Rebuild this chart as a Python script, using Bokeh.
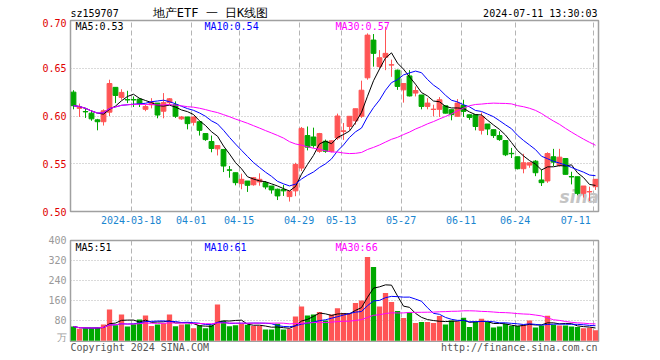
import numpy as np
import pandas as pd
from bokeh.plotting import figure
from bokeh.layouts import column
from bokeh.models import Range1d, FixedTicker, Label, ColumnDataSource, NumeralTickFormatter
from bokeh.embed import file_html
from bokeh.resources import INLINE

# ---------------- data ----------------
opens = [0.625, 0.608, 0.6047, 0.603, 0.596, 0.594, 0.604, 0.630, 0.6195, 0.6172,
         0.6172, 0.6177, 0.607, 0.6118, 0.6135, 0.605, 0.614, 0.6118, 0.597, 0.599,
         0.5934, 0.594, 0.5816, 0.5733, 0.5656, 0.565, 0.5436, 0.5406, 0.5292, 0.5319,
         0.528, 0.531, 0.5302, 0.5267, 0.5233, 0.523, 0.5156, 0.5216, 0.5455, 0.5795,
         0.578, 0.563, 0.5736, 0.563, 0.577, 0.5837, 0.589, 0.595, 0.5997, 0.640,
         0.6795, 0.6517, 0.6615, 0.6533, 0.648, 0.6274, 0.642, 0.624, 0.622, 0.610,
         0.6068, 0.607, 0.6107, 0.6066, 0.5997, 0.611, 0.6013, 0.6013, 0.585, 0.5916,
         0.5857, 0.5795, 0.5743, 0.5609, 0.5573, 0.5448, 0.5486, 0.5527, 0.533, 0.532,
         0.5573, 0.5483, 0.5555, 0.5366, 0.5364, 0.519, 0.5205, 0.5260]
highs = [0.627, 0.613, 0.608, 0.6055, 0.597, 0.607, 0.638, 0.630, 0.628, 0.6264,
         0.6205, 0.6187, 0.6118, 0.6187, 0.6135, 0.624, 0.6187, 0.6153, 0.600, 0.599,
         0.599, 0.594, 0.5816, 0.5795, 0.5693, 0.565, 0.5476, 0.5406, 0.5396, 0.5319,
         0.5361, 0.540, 0.5319, 0.5267, 0.524, 0.5277, 0.5212, 0.551, 0.5885, 0.589,
         0.5878, 0.5823, 0.5753, 0.5743, 0.6025, 0.5927, 0.5997, 0.6076, 0.637, 0.6865,
         0.6858, 0.669, 0.6934, 0.659, 0.6486, 0.634, 0.648, 0.6309, 0.622, 0.6187,
         0.6118, 0.6198, 0.6107, 0.6066, 0.6177, 0.617, 0.6013, 0.6013, 0.6037, 0.5916,
         0.5857, 0.584, 0.5743, 0.5666, 0.5573, 0.5604, 0.551, 0.5538, 0.544, 0.562,
         0.5656, 0.5656, 0.5555, 0.5416, 0.5364, 0.5267, 0.526, 0.534]
lows = [0.607, 0.599, 0.598, 0.595, 0.585, 0.590, 0.600, 0.6135, 0.617, 0.6135,
        0.6094, 0.6094, 0.605, 0.608, 0.5976, 0.5976, 0.6118, 0.598, 0.596, 0.586,
        0.590, 0.5795, 0.574, 0.562, 0.5587, 0.5413, 0.5354, 0.5274, 0.5233, 0.5205,
        0.527, 0.527, 0.5233, 0.5187, 0.512, 0.5163, 0.5104, 0.516, 0.5424, 0.564,
        0.5667, 0.5615, 0.5615, 0.562, 0.575, 0.575, 0.585, 0.591, 0.598, 0.638,
        0.6517, 0.650, 0.648, 0.641, 0.6274, 0.614, 0.6205, 0.6205, 0.607, 0.607,
        0.5997, 0.599, 0.6027, 0.5955, 0.5997, 0.599, 0.596, 0.585, 0.5806, 0.580,
        0.577, 0.574, 0.558, 0.556, 0.5441, 0.540, 0.5458, 0.537, 0.5267, 0.530,
        0.5476, 0.547, 0.5389, 0.5284, 0.517, 0.5146, 0.511, 0.5225]
closes = [0.6108, 0.609, 0.6043, 0.597, 0.594, 0.6055, 0.634, 0.6215, 0.6247, 0.6168,
          0.6168, 0.6128, 0.610, 0.614, 0.601, 0.614, 0.618, 0.5997, 0.599, 0.592,
          0.599, 0.585, 0.5753, 0.566, 0.569, 0.5476, 0.5432, 0.5302, 0.5337, 0.5274,
          0.5354, 0.5337, 0.5257, 0.5226, 0.5163, 0.5216, 0.5212, 0.5493, 0.587, 0.5674,
          0.569, 0.5816, 0.563, 0.574, 0.600, 0.5845, 0.5997, 0.6076, 0.627, 0.6847,
          0.6656, 0.661, 0.6656, 0.6537, 0.631, 0.634, 0.621, 0.6267, 0.610, 0.6135,
          0.6072, 0.617, 0.603, 0.6014, 0.6135, 0.6048, 0.5985, 0.589, 0.5996, 0.5864,
          0.5795, 0.5753, 0.5594, 0.5605, 0.5448, 0.551, 0.551, 0.5406, 0.5302, 0.5607,
          0.5517, 0.5569, 0.5389, 0.5362, 0.519, 0.5267, 0.5209, 0.5337]
volumes = [57, 48, 50, 50, 52, 65, 125, 62, 105, 57,
           66, 85, 101, 59, 65, 70, 105, 58, 65, 66,
           50, 62, 50, 62, 145, 80, 58, 62, 68, 64,
           59, 59, 45, 45, 68, 45, 48, 97, 137, 101,
           105, 115, 81, 105, 130, 111, 111, 151, 161, 335,
           295, 137, 191, 155, 119, 91, 113, 71, 75, 75,
           71, 99, 65, 81, 77, 92, 55, 75, 88, 75,
           53, 57, 67, 59, 59, 64, 81, 53, 61, 100,
           64, 61, 61, 57, 55, 50, 52, 42]
date_tick_index = [10, 20, 28, 38, 45, 55, 65, 74, 87]
date_tick_labels = ["2024-03-18", "04-01", "04-15", "04-29", "05-13",
                    "05-27", "06-11", "06-24", "07-11"]
price_ticks = [0.50, 0.55, 0.60, 0.65, 0.70]
volume_ticks = [0, 80, 160, 240, 320, 400]
price_ma_labels = ["MA5:0.53", "MA10:0.54", "MA30:0.57"]
volume_ma_labels = ["MA5:51", "MA10:61", "MA30:66"]
code_text = "sz159707"
title_text = "地产ETF 一 日K线图"
time_text = "2024-07-11 13:30:03"
footer_left = "Copyright 2024 SINA.COM"
footer_right = "http://finance.sina.com.cn"

# ---------------- styles ----------------
RED = "#ff5555"
GREEN = "#00a800"
MONO = "DejaVu Sans Mono"
MA_COLORS = ["black", "#0000ff", "#ff00ff"]
GRID = "#b4b4b4"
OUTLINE = "#a0a0a0"
W = 652
BL, BR = 70, 54            # left / right borders: frame spans page x 70..598

n = len(closes)
idx = np.arange(n)
o = np.array(opens); c = np.array(closes)
h = np.array(highs); l = np.array(lows)
vol = np.array(volumes, dtype=float)
up = c >= o
colors = [RED if u else GREEN for u in up]

cs = pd.Series(c)
vs = pd.Series(vol)
src = ColumnDataSource(dict(
    x=idx, o=o, c=c, h=h, l=l,
    top=np.maximum(o, c), bot=np.minimum(o, c),
    vol=vol, color=colors,
    ma5=cs.rolling(5, min_periods=1).mean(),
    ma10=cs.rolling(10, min_periods=1).mean(),
    ma30=cs.rolling(30, min_periods=1).mean(),
    vma5=vs.rolling(5, min_periods=1).mean(),
    vma10=vs.rolling(10, min_periods=1).mean(),
    vma30=vs.rolling(30, min_periods=1).mean(),
))

xr = Range1d(-0.5, n - 0.5)
grid_x = [i - 0.4 for i in date_tick_index]
# tick-label anchors: same as the grid, except that a label is kept inside the frame
px_per_x = 528.0 / n
label_x = []
for gx, lab in zip(grid_x, date_tick_labels):
    half = len(lab) * 3.0 / px_per_x          # half label width in data units (6px per char)
    label_x.append(min(gx, (n - 0.5) - 1.3 - half))

def text_strip(height):
    # x data units equal page pixels (frame spans 70..598)
    f = figure(width=W, height=height, x_range=Range1d(BL, W - BR), y_range=Range1d(0, height),
               x_axis_location=None, y_axis_location=None, output_backend="svg",
               toolbar_location=None, min_border_left=BL, min_border_right=BR,
               min_border_top=0, min_border_bottom=0, outline_line_color=None)
    f.xgrid.visible = False
    f.ygrid.visible = False
    return f


# ---------------- header ----------------
hdr = text_strip(18)
hdr.add_layout(Label(x=70, y=5.5, text=code_text, text_font=MONO,
                     text_font_size="10px", text_color="black", text_baseline="middle"))
hdr.add_layout(Label(x=210, y=6, text=title_text, text_font=MONO,
                     text_font_size="12px", text_color="black", text_baseline="middle",
                     text_align="center"))
hdr.add_layout(Label(x=597, y=5.5, text=time_text, text_font=MONO,
                     text_font_size="10px", text_color="black", text_baseline="middle",
                     text_align="right"))

# ---------------- price panel ----------------
p1 = figure(width=W, height=212, x_range=xr, y_range=Range1d(0.50, 0.70),
            output_backend="svg", toolbar_location=None,
            min_border_left=BL, min_border_right=BR, min_border_top=2, min_border_bottom=19,
            outline_line_color=OUTLINE, outline_line_width=1.5)
p1.segment(x0="x", y0="l", x1="x", y1="h", color="color", line_width=1, source=src)
p1.vbar(x="x", width=0.8, top="top", bottom="bot", fill_color="color",
        line_color="color", line_width=1, source=src)
for col, mc in zip(["ma5", "ma10", "ma30"], MA_COLORS):
    p1.line("x", col, color=mc, line_width=1, source=src)

p1.yaxis.ticker = FixedTicker(ticks=price_ticks)
p1.yaxis.formatter = NumeralTickFormatter(format="0.00")
p1.yaxis.major_label_text_color = "#e00000"
p1.xaxis.ticker = FixedTicker(ticks=label_x)
p1.xaxis.major_label_overrides = {t: s for t, s in zip(label_x, date_tick_labels)}
p1.xaxis.major_label_text_color = "#1a86d0"
for ax in [p1.xaxis[0], p1.yaxis[0]]:
    ax.axis_line_color = None
    ax.major_tick_line_color = None
    ax.minor_tick_line_color = None
    ax.major_tick_out = 0
    ax.major_tick_in = 0
    ax.major_label_text_font = MONO
    ax.major_label_text_font_size = "10px"
    ax.major_label_standoff = 4
p1.xgrid.ticker = FixedTicker(ticks=grid_x)
p1.xgrid.grid_line_color = GRID
p1.xgrid.grid_line_dash = "5 3"
p1.ygrid.ticker = FixedTicker(ticks=[0.55, 0.60, 0.65])
p1.ygrid.grid_line_color = GRID
p1.ygrid.grid_line_dash = "1 2"

px = 0.2 / 191.0
for xpos, txt, mc in zip([0.33, 21.83, 43.67], price_ma_labels, MA_COLORS):
    p1.add_layout(Label(x=xpos, y=0.70 - 6 * px, text=txt, text_font=MONO,
                        text_font_size="10px", text_color=mc, text_baseline="middle"))
p1.add_layout(Label(x=84.3, y=0.5157, text="sina", text_font="DejaVu Sans",
                    text_font_style="bold italic", text_font_size="17px",
                    text_color="#c4c4c4", text_align="center", text_baseline="middle",
                    level="underlay"))

# ---------------- volume panel ----------------
p2 = figure(width=W, height=112, x_range=xr, y_range=Range1d(-2.8, 401.2),
            x_axis_location=None, output_backend="svg", toolbar_location=None,
            min_border_left=BL, min_border_right=BR, min_border_top=10, min_border_bottom=1,
            outline_line_color=OUTLINE, outline_line_width=1.5)
p2.vbar(x="x", width=0.88, top="vol", bottom=0, fill_color="color",
        line_color=None, source=src)
for col, mc in zip(["vma5", "vma10", "vma30"], MA_COLORS):
    p2.line("x", col, color=mc, line_width=1, source=src)
p2.yaxis.ticker = FixedTicker(ticks=volume_ticks)
p2.yaxis.major_label_overrides = {0: "万"}
p2.yaxis.major_label_text_color = "#999999"
p2.yaxis.axis_line_color = None
p2.yaxis.major_tick_line_color = None
p2.yaxis.minor_tick_line_color = None
p2.yaxis.major_tick_out = 0
p2.yaxis.major_tick_in = 0
p2.yaxis.major_label_text_font = MONO
p2.yaxis.major_label_text_font_size = "10px"
p2.yaxis.major_label_standoff = 4
p2.xgrid.ticker = FixedTicker(ticks=grid_x)
p2.xgrid.grid_line_color = GRID
p2.xgrid.grid_line_dash = "5 3"
p2.ygrid.ticker = FixedTicker(ticks=[80, 160, 240, 320])
p2.ygrid.grid_line_color = GRID
p2.ygrid.grid_line_dash = "1 2"

for xpos, txt, mc in zip([0.33, 21.83, 43.67], volume_ma_labels, MA_COLORS):
    p2.add_layout(Label(x=xpos, y=375, text=txt, text_font=MONO,
                        text_font_size="10px", text_color=mc, text_baseline="middle"))

# ---------------- footer ----------------
ftr = text_strip(18)
ftr.add_layout(Label(x=70, y=13, text=footer_left, text_font=MONO,
                     text_font_size="10px", text_color="#555555", text_baseline="middle"))
ftr.add_layout(Label(x=597, y=13, text=footer_right, text_font=MONO,
                     text_font_size="10px", text_color="#555555", text_baseline="middle",
                     text_align="right"))

layout = column(hdr, p1, p2, ftr)
open("out.html", "w").write(file_html(layout, INLINE))
